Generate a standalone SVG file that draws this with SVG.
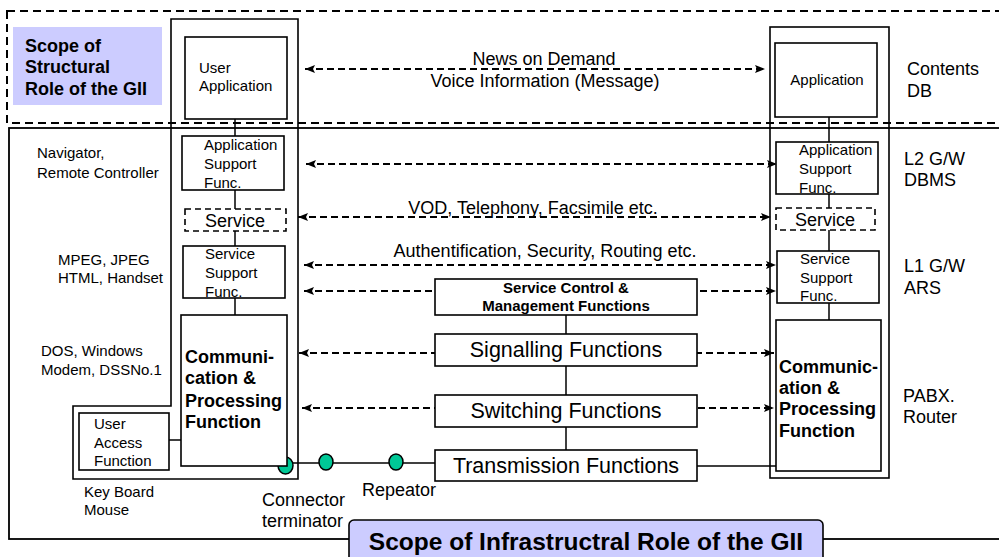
<svg xmlns="http://www.w3.org/2000/svg" width="999" height="557" viewBox="0 0 999 557">
<defs>
<marker id="ah" viewBox="0 0 10 8" refX="10" refY="4" markerWidth="10" markerHeight="8" markerUnits="userSpaceOnUse" orient="auto-start-reverse">
<path d="M0,0 L10,4 L0,8 L2,4 Z" fill="#000"/>
</marker>
<style>
text{font-family:"Liberation Sans",Arial,sans-serif;fill:#000}
.box{fill:#fff;stroke:#000;stroke-width:1.6}
.nofill{fill:none;stroke:#000;stroke-width:1.6}
.dbox{fill:#fff;stroke:#000;stroke-width:1.6;stroke-dasharray:6 4}
.ln{stroke:#000;stroke-width:1.5;fill:none}
.arr{stroke:#000;stroke-width:1.8;fill:none;stroke-dasharray:7 4;marker-start:url(#ah);marker-end:url(#ah)}
.s15{font-size:15px}
.s18{font-size:18px}
.b18{font-size:18px;font-weight:bold}
.b15{font-size:15px;font-weight:bold}
.s21{font-size:21.5px}
.mid{text-anchor:middle}
.lav{fill:#ccccff}
.grn{fill:#00c896;stroke:#000;stroke-width:1.5}
</style>
</defs>

<g id="scope-structural">
<rect x="7" y="11" width="1010" height="112" fill="none" stroke="#000" stroke-width="2" stroke-dasharray="8 5"/>
<rect class="lav" x="13" y="27" width="149" height="78"/>
<text class="b18" x="25" y="52">Scope of</text>
<text class="b18" x="25" y="73">Structural</text>
<text class="b18" x="25" y="95">Role of the GII</text>
</g>

<g id="scope-infrastructural-frame">
<rect x="9" y="128" width="1010" height="411" fill="none" stroke="#000" stroke-width="1.8"/>
</g>

<g id="connectors">
<line class="ln" x1="235" y1="119" x2="235" y2="136"/>
<line class="ln" x1="235" y1="190" x2="235" y2="209"/>
<line class="ln" x1="235" y1="231" x2="235" y2="246"/>
<line class="ln" x1="235" y1="298" x2="235" y2="315"/>
<line class="ln" x1="829" y1="117" x2="829" y2="142"/>
<line class="ln" x1="829" y1="194" x2="829" y2="208"/>
<line class="ln" x1="829" y1="230" x2="829" y2="251"/>
<line class="ln" x1="829" y1="303" x2="829" y2="320"/>
<line class="ln" x1="566" y1="315" x2="566" y2="334"/>
<line class="ln" x1="566" y1="366" x2="566" y2="395"/>
<line class="ln" x1="566" y1="427" x2="566" y2="450"/>
<line class="ln" x1="169" y1="440" x2="181" y2="440"/>
<line class="ln" x1="287" y1="463" x2="435" y2="463"/>
<line class="ln" x1="697" y1="466" x2="776" y2="466"/>
<line class="arr" x1="305" y1="69" x2="765" y2="69"/>
<line class="arr" x1="306" y1="164" x2="777" y2="164"/>
<line class="arr" x1="298" y1="217" x2="771" y2="217"/>
<line class="arr" x1="304" y1="265" x2="776" y2="265"/>
<line class="arr" x1="304" y1="291" x2="776" y2="291"/>
<line class="arr" x1="299" y1="353" x2="774" y2="353"/>
<line class="arr" x1="302" y1="408" x2="774" y2="408"/>
</g>

<g id="left-column">
<path class="nofill" d="M171,19 H298 V479 H73 V406 H171 Z"/>
</g>

<g id="user-application">
<rect class="box" x="185" y="37" width="102" height="82"/>
<text class="s15" x="199" y="73">User</text>
<text class="s15" x="199" y="91">Application</text>
</g>

<g id="app-support-left">
<rect class="box" x="182" y="136" width="102" height="54"/>
<text class="s15" x="204" y="150">Application</text>
<text class="s15" x="204" y="169">Support</text>
<text class="s15" x="204" y="188">Func.</text>
</g>

<g id="service-left">
<rect class="dbox" x="185" y="209" width="101" height="22"/>
<text class="s18 mid" x="235" y="227">Service</text>
</g>

<g id="service-support-left">
<rect class="box" x="183" y="246" width="102" height="52"/>
<text class="s15" x="205" y="259">Service</text>
<text class="s15" x="205" y="278">Support</text>
<text class="s15" x="205" y="297">Func.</text>
</g>

<g id="terminator">
<ellipse class="grn" cx="285.5" cy="465.5" rx="7.5" ry="8.5"/>
</g>

<g id="comm-left">
<rect class="box" x="181" y="315" width="106" height="151"/>
<text class="b18" x="185" y="363">Communi-</text>
<text class="b18" x="185" y="384">cation &amp;</text>
<text class="b18" x="185" y="407">Processing</text>
<text class="b18" x="185" y="428">Function</text>
</g>

<g id="user-access">
<rect class="box" x="79" y="413" width="90" height="57"/>
<text class="s15" x="94" y="429">User</text>
<text class="s15" x="94" y="448">Access</text>
<text class="s15" x="94" y="466">Function</text>
</g>

<g id="connector">
<ellipse class="grn" cx="326" cy="462" rx="7" ry="8"/>
</g>
<g id="repeator">
<ellipse class="grn" cx="396" cy="462" rx="7" ry="8"/>
</g>

<g id="left-labels">
<text class="s15" x="37" y="158">Navigator,</text>
<text class="s15" x="37" y="178">Remote Controller</text>
<text class="s15" x="58" y="265">MPEG, JPEG</text>
<text class="s15" x="58" y="283">HTML, Handset</text>
<text class="s15" x="41" y="356">DOS, Windows</text>
<text class="s15" x="41" y="375">Modem, DSSNo.1</text>
<text class="s15" x="84" y="497">Key Board</text>
<text class="s15" x="84" y="515">Mouse</text>
<text class="s18" x="262" y="506">Connector</text>
<text class="s18" x="262" y="527">terminator</text>
<text class="s18" x="362" y="496">Repeator</text>
</g>

<g id="middle-labels">
<text class="s18 mid" x="544" y="65">News on Demand</text>
<text class="s18 mid" x="545" y="87">Voice Information (Message)</text>
<text class="s18 mid" x="533" y="214">VOD, Telephony, Facsimile etc.</text>
<text class="s18 mid" x="545" y="257">Authentification, Security, Routing etc.</text>
</g>

<g id="service-control">
<rect class="box" x="435" y="279" width="262" height="36"/>
<text class="b15 mid" x="566" y="293">Service Control &amp;</text>
<text class="b15 mid" x="566" y="311">Management Functions</text>
</g>

<g id="signalling">
<rect class="box" x="435" y="334" width="262" height="32"/>
<text class="s21 mid" x="566" y="357">Signalling Functions</text>
</g>

<g id="switching">
<rect class="box" x="435" y="395" width="262" height="32"/>
<text class="s21 mid" x="566" y="418">Switching Functions</text>
</g>

<g id="transmission">
<rect class="box" x="435" y="450" width="262" height="31"/>
<text class="s21 mid" x="566" y="473">Transmission Functions</text>
</g>

<g id="right-column">
<rect class="nofill" x="770" y="27" width="119" height="451"/>
</g>

<g id="application-right">
<rect class="box" x="775" y="43" width="102" height="74"/>
<text class="s15 mid" x="827" y="85">Application</text>
</g>

<g id="app-support-right">
<rect class="box" x="776" y="142" width="102" height="52"/>
<text class="s15" x="799" y="155">Application</text>
<text class="s15" x="799" y="174">Support</text>
<text class="s15" x="799" y="193">Func.</text>
</g>

<g id="service-right">
<rect class="dbox" x="776" y="208" width="99" height="22"/>
<text class="s18 mid" x="825" y="226">Service</text>
</g>

<g id="service-support-right">
<rect class="box" x="777" y="251" width="102" height="52"/>
<text class="s15" x="800" y="264">Service</text>
<text class="s15" x="800" y="283">Support</text>
<text class="s15" x="800" y="301">Func.</text>
</g>

<g id="comm-right">
<rect class="box" x="776" y="320" width="105" height="151"/>
<text class="b18" x="779" y="373">Communic-</text>
<text class="b18" x="779" y="394">ation &amp;</text>
<text class="b18" x="779" y="415">Processing</text>
<text class="b18" x="779" y="437">Function</text>
</g>

<g id="right-labels">
<text class="s18" x="907" y="75">Contents</text>
<text class="s18" x="907" y="97">DB</text>
<text class="s18" x="904" y="165">L2 G/W</text>
<text class="s18" x="904" y="186">DBMS</text>
<text class="s18" x="904" y="272">L1 G/W</text>
<text class="s18" x="904" y="294">ARS</text>
<text class="s18" x="903" y="402">PABX.</text>
<text class="s18" x="903" y="423">Router</text>
</g>

<g id="scope-infrastructural-label">
<rect class="lav" x="349" y="520" width="474" height="45" rx="5" stroke="#000" stroke-width="1.6"/>
<text class="mid" x="586" y="550" style="font-size:24.5px;font-weight:bold">Scope of Infrastructral Role of the GII</text>
</g>
</svg>
